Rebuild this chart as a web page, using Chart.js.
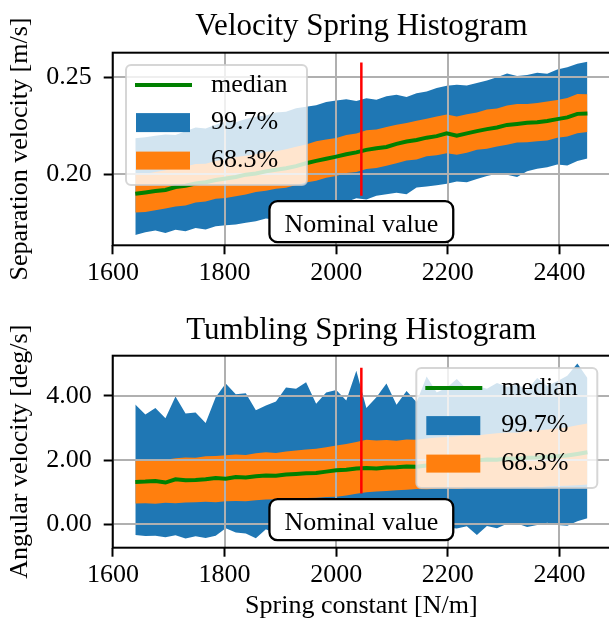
<!DOCTYPE html>
<html>
<head>
<meta charset="utf-8">
<script src="https://cdn.jsdelivr.net/npm/chart.js@4.4.1/dist/chart.umd.min.js"></script>
<style>
html, body { margin: 0; padding: 0; background: #fff; overflow: hidden; width: 609px; height: 624px; }
canvas { display: block; }
</style>
</head>
<body>
<canvas id="velocityChart" width="620" height="312" style="width:620px;height:312px"></canvas>
<canvas id="tumblingChart" width="620" height="312" style="width:620px;height:312px"></canvas>
<script>
// spring constant samples [N/m]
var springK = [1640, 1658, 1676, 1694, 1712, 1730, 1748, 1766, 1784, 1802,
  1820, 1838, 1856, 1874, 1892, 1910, 1928, 1946, 1964, 1982,
  2000, 2018, 2036, 2054, 2072, 2090, 2108, 2126, 2144, 2162,
  2180, 2198, 2216, 2234, 2252, 2270, 2288, 2306, 2324, 2342,
  2360, 2378, 2396, 2414, 2432, 2450];
var nominalK = 2045;
var xTicks = [1600, 1800, 2000, 2200, 2400];
var legendLabels = ['median', '99.7%', '68.3%'];

// separation velocity [m/s]
var velMedian = [0.1898, 0.1905, 0.1912, 0.1918, 0.1933, 0.1940, 0.1951, 0.1958, 0.1969, 0.1977,
  0.1985, 0.1997, 0.2003, 0.2014, 0.2022, 0.2030, 0.2041, 0.2056, 0.2068, 0.2079,
  0.2090, 0.2102, 0.2112, 0.2125, 0.2133, 0.2140, 0.2156, 0.2168, 0.2176, 0.2188,
  0.2196, 0.2211, 0.2198, 0.2210, 0.2222, 0.2232, 0.2241, 0.2254, 0.2259, 0.2265,
  0.2268, 0.2274, 0.2284, 0.2293, 0.2311, 0.2313];
var velHi68 = [0.1998, 0.2001, 0.2011, 0.2020, 0.2030, 0.2039, 0.2052, 0.2053, 0.2067, 0.2077,
  0.2088, 0.2094, 0.2102, 0.2115, 0.2118, 0.2128, 0.2141, 0.2153, 0.2170, 0.2178,
  0.2186, 0.2202, 0.2210, 0.2226, 0.2230, 0.2243, 0.2255, 0.2264, 0.2276, 0.2286,
  0.2298, 0.2308, 0.2298, 0.2309, 0.2318, 0.2333, 0.2339, 0.2354, 0.2362, 0.2362,
  0.2367, 0.2375, 0.2382, 0.2393, 0.2413, 0.2412];
var velLo68 = [0.1801, 0.1804, 0.1813, 0.1822, 0.1833, 0.1837, 0.1853, 0.1858, 0.1872, 0.1876,
  0.1886, 0.1895, 0.1907, 0.1914, 0.1924, 0.1929, 0.1944, 0.1957, 0.1965, 0.1981,
  0.1990, 0.2006, 0.2011, 0.2026, 0.2031, 0.2043, 0.2056, 0.2070, 0.2075, 0.2092,
  0.2097, 0.2108, 0.2100, 0.2110, 0.2125, 0.2131, 0.2142, 0.2152, 0.2163, 0.2165,
  0.2170, 0.2173, 0.2187, 0.2194, 0.2211, 0.2217];
var velHi99 = [0.2185, 0.2190, 0.2198, 0.2205, 0.2202, 0.2221, 0.2240, 0.2236, 0.2255, 0.2272,
  0.2268, 0.2285, 0.2296, 0.2302, 0.2318, 0.2322, 0.2340, 0.2348, 0.2356, 0.2372,
  0.2380, 0.2386, 0.2378, 0.2392, 0.2384, 0.2402, 0.2410, 0.2398, 0.2418, 0.2426,
  0.2444, 0.2456, 0.2462, 0.2458, 0.2470, 0.2484, 0.2500, 0.2520, 0.2506, 0.2512,
  0.2524, 0.2518, 0.2540, 0.2552, 0.2570, 0.2580];
var velLo99 = [0.1685, 0.1700, 0.1708, 0.1696, 0.1712, 0.1705, 0.1722, 0.1714, 0.1730, 0.1736,
  0.1740, 0.1748, 0.1756, 0.1770, 0.1764, 0.1785, 0.1800, 0.1812, 0.1822, 0.1838,
  0.1850, 0.1856, 0.1875, 0.1868, 0.1888, 0.1896, 0.1904, 0.1896, 0.1930, 0.1936,
  0.1942, 0.1950, 0.1962, 0.1958, 0.1975, 0.1990, 0.2002, 0.1996, 0.1985, 0.2015,
  0.2028, 0.2035, 0.2050, 0.2044, 0.2068, 0.2081];
var velNominalLine = [0.1888, 0.2576];
var velTicks = [0.20, 0.25];

// angular velocity [deg/s]
var angMedian = [1.32, 1.33, 1.35, 1.30, 1.40, 1.37, 1.38, 1.40, 1.44, 1.42,
  1.47, 1.46, 1.50, 1.52, 1.51, 1.55, 1.57, 1.59, 1.60, 1.64,
  1.68, 1.70, 1.74, 1.75, 1.74, 1.77, 1.78, 1.80, 1.79, 1.83,
  1.86, 1.88, 1.92, 1.95, 1.99, 2.02, 2.01, 2.05, 2.04, 2.07,
  2.08, 2.10, 2.12, 2.14, 2.19, 2.24];
var angHi68 = [2.00, 2.02, 2.03, 2.01, 2.06, 2.08, 2.07, 2.12, 2.13, 2.15,
  2.17, 2.16, 2.21, 2.24, 2.22, 2.27, 2.30, 2.33, 2.35, 2.40,
  2.45, 2.50, 2.56, 2.63, 2.61, 2.62, 2.60, 2.64, 2.63, 2.67,
  2.70, 2.72, 2.74, 2.77, 2.76, 2.80, 2.83, 2.86, 2.85, 2.90,
  2.92, 2.95, 2.98, 3.02, 3.08, 3.14];
var angLo68 = [0.65, 0.66, 0.64, 0.67, 0.66, 0.68, 0.69, 0.70, 0.69, 0.72,
  0.73, 0.72, 0.75, 0.77, 0.78, 0.80, 0.79, 0.82, 0.83, 0.85,
  0.86, 0.90, 0.95, 1.00, 1.02, 1.04, 1.06, 1.08, 1.10, 1.09,
  1.11, 1.12, 1.10, 1.13, 1.12, 1.14, 1.15, 1.13, 1.16, 1.17,
  1.15, 1.18, 1.19, 1.20, 1.22, 1.24];
var angHi99 = [3.73, 3.42, 3.62, 3.30, 3.98, 3.45, 3.48, 3.15, 3.95, 4.38,
  4.05, 4.08, 3.55, 3.70, 3.82, 4.26, 4.22, 4.42, 3.75, 4.10,
  4.18, 3.85, 4.78, 3.62, 3.95, 4.38, 3.72, 4.15, 3.80, 4.60,
  4.10, 4.25, 4.52, 4.20, 4.30, 4.22, 4.40, 4.28, 4.35, 4.18,
  4.55, 4.30, 4.45, 4.62, 5.00, 4.55];
var angLo99 = [-0.33, -0.36, -0.35, -0.40, -0.34, -0.44, -0.37, -0.42, -0.35, -0.12,
  -0.25, -0.28, -0.43, -0.15, -0.30, -0.22, -0.26, -0.18, -0.24, -0.20,
  -0.16, -0.22, -0.14, -0.18, -0.10, -0.20, -0.15, -0.12, -0.22, -0.08,
  -0.14, -0.10, -0.13, -0.06, -0.33, -0.05, -0.12, 0.02, 0.03, -0.08,
  -0.02, 0.05, -0.02, -0.04, 0.10, 0.19];
var angNominalLine = [0.96, 4.87];
var angTicks = [0, 2, 4];

var FONT = 'Liberation Serif';

function pts(ys) {
  return springK.map(function (k, i) { return { x: k, y: ys[i] }; });
}

function roundedRect(c, x, y, w, h, r) {
  c.beginPath();
  c.moveTo(x + r, y);
  c.arcTo(x + w, y, x + w, y + h, r);
  c.arcTo(x + w, y + h, x, y + h, r);
  c.arcTo(x, y + h, x, y, r);
  c.arcTo(x, y, x + w, y, r);
  c.closePath();
}

function drawLegend(chart, side) {
  var a = chart.chartArea, c = chart.ctx;
  var w = 181, h = 120;
  var x0 = side === 'left' ? a.left + 13.3 : a.right - 12.7 - w;
  var y0 = a.top + 12.4;
  c.save();
  roundedRect(c, x0, y0, w, h, 5);
  c.fillStyle = 'rgba(255,255,255,0.8)';
  c.fill();
  c.strokeStyle = 'rgba(204,204,204,0.8)';
  c.lineWidth = 2;
  c.stroke();
  c.strokeStyle = '#008000';
  c.lineWidth = 4;
  c.beginPath();
  c.moveTo(x0 + 9, y0 + 20);
  c.lineTo(x0 + 66, y0 + 20);
  c.stroke();
  c.fillStyle = '#1f77b4';
  c.fillRect(x0 + 10, y0 + 48, 54, 19);
  c.fillStyle = '#ff7f0e';
  c.fillRect(x0 + 10, y0 + 86.5, 54, 18);
  c.fillStyle = '#000';
  c.font = '26px "' + FONT + '"';
  c.textAlign = 'left';
  c.textBaseline = 'middle';
  var rows = [20, 57.5, 95];
  legendLabels.forEach(function (t, i) { c.fillText(t, x0 + 85, y0 + rows[i]); });
  c.restore();
}

function drawNominal(chart, yVal) {
  var c = chart.ctx;
  var cx = chart.scales.x.getPixelForValue(nominalK);
  var by = chart.scales.y.getPixelForValue(yVal);
  c.save();
  c.font = '26px "' + FONT + '"';
  var w = c.measureText('Nominal value').width;
  roundedRect(c, cx - w / 2 - 15, by - 31, w + 30, 41, 8);
  c.fillStyle = '#fff';
  c.fill();
  c.strokeStyle = '#000';
  c.lineWidth = 2.3;
  c.stroke();
  c.fillStyle = '#000';
  c.textAlign = 'center';
  c.textBaseline = 'alphabetic';
  c.fillText('Nominal value', cx, by);
  c.restore();
}

// grid above the bands but under the median, spines, legend and label box on top
function overlay(p) {
  return {
    id: 'overlay',
    beforeDatasetDraw: function (chart, args) {
      if (args.index !== 0) return;
      var a = chart.chartArea, c = chart.ctx, sx = chart.scales.x, sy = chart.scales.y;
      c.save();
      c.beginPath();
      c.rect(a.left, a.top, a.right - a.left, a.bottom - a.top);
      c.clip();
      c.strokeStyle = '#b0b0b0';
      c.lineWidth = 2;
      sx.ticks.forEach(function (t) {
        var px = Math.round(sx.getPixelForValue(t.value));
        c.beginPath(); c.moveTo(px, a.top); c.lineTo(px, a.bottom); c.stroke();
      });
      sy.ticks.forEach(function (t) {
        var py = Math.round(sy.getPixelForValue(t.value));
        c.beginPath(); c.moveTo(a.left, py); c.lineTo(a.right, py); c.stroke();
      });
      c.restore();
    },
    afterDatasetsDraw: function (chart) {
      var a = chart.chartArea, c = chart.ctx;
      c.save();
      c.strokeStyle = '#000';
      c.lineWidth = 2;
      c.strokeRect(a.left, a.top, a.right - a.left, a.bottom - a.top);
      c.restore();
    },
    afterDraw: function (chart) {
      drawNominal(chart, p.nominalY);
      drawLegend(chart, p.legendSide);
    }
  };
}

function makeChart(id, p) {
  var band = { borderWidth: 0, borderColor: 'transparent', pointRadius: 0 };
  return new Chart(document.getElementById(id), {
    type: 'line',
    data: {
      datasets: [
        { label: 'median', data: pts(p.median), borderColor: '#008000', borderWidth: 4, pointRadius: 0, fill: false, order: 0 },
        { label: 'nominal', data: [{ x: nominalK, y: p.redLine[0] }, { x: nominalK, y: p.redLine[1] }],
          borderColor: '#ff0000', borderWidth: 2.5, pointRadius: 0, fill: false, order: -1 },
        Object.assign({ label: 'hi68', data: pts(p.hi68), fill: false, order: 1 }, band),
        Object.assign({ label: '68.3%', data: pts(p.lo68), fill: '-1', backgroundColor: '#ff7f0e', order: 1 }, band),
        Object.assign({ label: 'hi99', data: pts(p.hi99), fill: false, order: 2 }, band),
        Object.assign({ label: '99.7%', data: pts(p.lo99), fill: '-1', backgroundColor: '#1f77b4', order: 2 }, band)
      ]
    },
    options: {
      responsive: false,
      animation: false,
      events: [],
      layout: { padding: { left: 0, right: 10, top: 0, bottom: 0 } },
      plugins: {
        legend: { display: false },
        tooltip: { enabled: false },
        title: {
          display: true, text: p.title, fullSize: false, color: '#000',
          font: { family: FONT, size: 31, weight: 'normal', lineHeight: 1.2 },
          padding: p.titlePad
        }
      },
      scales: {
        x: {
          type: 'linear', min: 1599.5, max: 2490.5,
          border: { display: false },
          grid: { drawOnChartArea: false, drawTicks: true, tickLength: 9, tickColor: '#000', tickWidth: 2 },
          ticks: {
            color: '#000', font: { family: FONT, size: 26 }, padding: 3, maxRotation: 0, autoSkip: false,
            callback: function (v) { return String(v); }
          },
          afterBuildTicks: function (s) { s.ticks = xTicks.map(function (v) { return { value: v }; }); },
          afterFit: function (s) { s.height = p.xHeight; },
          title: p.xTitle ? {
            display: true, text: p.xTitle, color: '#000',
            font: { family: FONT, size: 26, lineHeight: 1.2 }, padding: { top: 0, bottom: 2.4 }
          } : { display: false }
        },
        y: {
          type: 'linear', min: p.yMin, max: p.yMax,
          border: { display: false },
          grid: { drawOnChartArea: false, drawTicks: true, tickLength: 9, tickColor: '#000', tickWidth: 2 },
          ticks: {
            color: '#000', font: { family: FONT, size: 26 }, padding: 12,
            callback: function (v) { return Number(v).toFixed(2); }
          },
          afterBuildTicks: function (s) { s.ticks = p.yTicks.map(function (v) { return { value: v }; }); },
          afterFit: function (s) { s.width = 112.7; },
          title: {
            display: true, text: p.yTitle, color: '#000',
            font: { family: FONT, size: 26, lineHeight: 1.2 }, padding: { top: 4.5, bottom: 0 }
          }
        }
      }
    },
    plugins: [overlay(p)]
  });
}

makeChart('velocityChart', {
  title: 'Velocity Spring Histogram',
  titlePad: { top: 7.9, bottom: 7.6 },
  yTitle: 'Separation velocity [m/s]',
  xTitle: null,
  xHeight: 66.7,
  yMin: 0.1632, yMax: 0.2627, yTicks: velTicks,
  median: velMedian, hi68: velHi68, lo68: velLo68, hi99: velHi99, lo99: velLo99,
  redLine: velNominalLine,
  nominalY: 0.170,
  legendSide: 'left'
});

makeChart('tumblingChart', {
  title: 'Tumbling Spring Histogram',
  titlePad: { top: 0, bottom: 6.5 },
  yTitle: 'Angular velocity [deg/s]',
  xTitle: 'Spring constant [N/m]',
  xHeight: 76.3,
  yMin: -0.725, yMax: 5.245, yTicks: angTicks,
  median: angMedian, hi68: angHi68, lo68: angLo68, hi99: angHi99, lo99: angLo99,
  redLine: angNominalLine,
  nominalY: -0.18,
  legendSide: 'right'
});
</script>
</body>
</html>
